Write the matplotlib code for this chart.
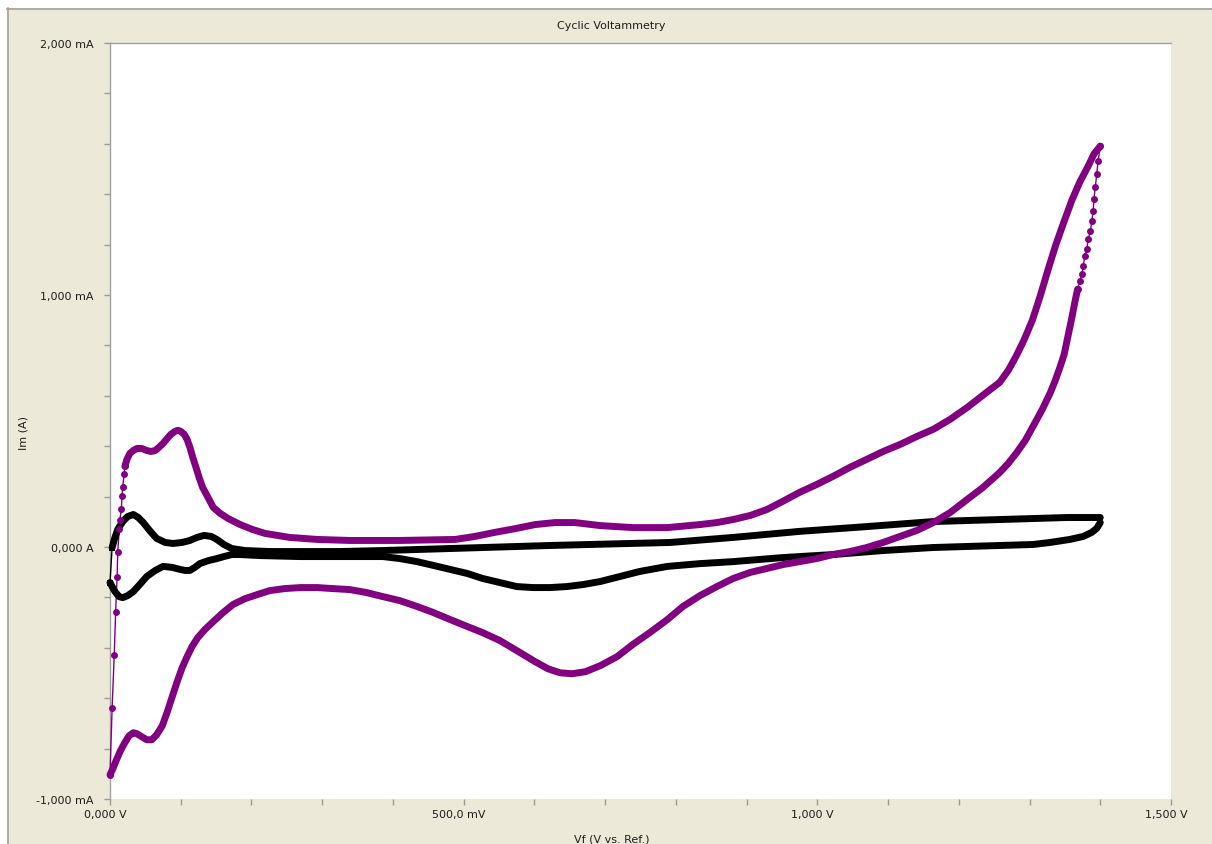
import numpy as np
import matplotlib
matplotlib.use("Agg")
import matplotlib.pyplot as plt
from matplotlib.lines import Line2D
from matplotlib.patches import Rectangle
from matplotlib.transforms import ScaledTranslation

# ---- cyclic voltammograms: potential (V) and current (mA) ----
# black run
run1_step_v = [0.000, 0.003]
run1_step_i = [-0.141, -0.002]
run1_fwd_v = [0.003, 0.007, 0.011, 0.018, 0.025, 0.033, 0.040, 0.047, 0.057, 0.066,
              0.078, 0.089, 0.102, 0.113, 0.123, 0.133, 0.143, 0.151, 0.161, 0.172,
              0.191, 0.226, 0.269, 0.325, 0.386, 0.481, 0.622, 0.792, 0.881, 0.975,
              1.070, 1.164, 1.258, 1.353, 1.400]
run1_fwd_i = [-0.002, 0.038, 0.070, 0.101, 0.121, 0.129, 0.117, 0.097, 0.062, 0.034,
              0.018, 0.014, 0.018, 0.026, 0.038, 0.046, 0.042, 0.030, 0.010, -0.006,
              -0.014, -0.018, -0.018, -0.018, -0.014, -0.006, 0.006, 0.018, 0.038, 0.062,
              0.081, 0.101, 0.109, 0.117, 0.117]
run1_rev_v = [1.400, 1.395, 1.388, 1.376, 1.357, 1.329, 1.305, 1.258, 1.164, 1.093,
              1.022, 0.951, 0.881, 0.834, 0.788, 0.749, 0.721, 0.693, 0.669, 0.646,
              0.622, 0.598, 0.575, 0.551, 0.527, 0.505, 0.481, 0.457, 0.434, 0.410,
              0.386, 0.325, 0.269, 0.212, 0.184, 0.172, 0.161, 0.151, 0.139, 0.127,
              0.120, 0.113, 0.106, 0.099, 0.088, 0.075, 0.064, 0.052, 0.042, 0.033,
              0.025, 0.018, 0.013, 0.007, 0.003, 0.000]
run1_rev_i = [0.097, 0.074, 0.058, 0.042, 0.030, 0.018, 0.010, 0.006, -0.002, -0.014,
              -0.030, -0.042, -0.058, -0.066, -0.077, -0.097, -0.117, -0.137, -0.149, -0.157,
              -0.161, -0.161, -0.157, -0.141, -0.125, -0.105, -0.089, -0.073, -0.058, -0.046,
              -0.038, -0.038, -0.038, -0.034, -0.030, -0.030, -0.038, -0.046, -0.054, -0.066,
              -0.081, -0.093, -0.093, -0.089, -0.081, -0.077, -0.093, -0.117, -0.149, -0.177,
              -0.193, -0.201, -0.197, -0.177, -0.157, -0.141]

# purple run
run2_step_v = [0.000, 0.003, 0.006, 0.008, 0.010, 0.011, 0.013, 0.014, 0.016, 0.017,
               0.018, 0.020, 0.021]
run2_step_i = [-0.904, -0.638, -0.427, -0.256, -0.121, -0.018, 0.070, 0.109, 0.149, 0.201,
               0.240, 0.288, 0.320]
run2_fwd_v = [0.021, 0.024, 0.028, 0.033, 0.038, 0.045, 0.052, 0.058, 0.064, 0.069,
              0.075, 0.081, 0.086, 0.092, 0.096, 0.100, 0.105, 0.109, 0.113, 0.117,
              0.122, 0.126, 0.131, 0.137, 0.146, 0.156, 0.167, 0.184, 0.201, 0.219,
              0.254, 0.293, 0.339, 0.410, 0.488, 0.516, 0.544, 0.573, 0.601, 0.629,
              0.657, 0.693, 0.739, 0.788, 0.834, 0.858, 0.881, 0.905, 0.929, 0.951,
              0.975, 0.999, 1.022, 1.046, 1.070, 1.093, 1.117, 1.141, 1.164, 1.188,
              1.212, 1.234, 1.258, 1.270, 1.281, 1.292, 1.304, 1.315, 1.326, 1.337,
              1.349, 1.360, 1.371, 1.383, 1.391, 1.400]
run2_fwd_i = [0.320, 0.348, 0.371, 0.383, 0.391, 0.391, 0.383, 0.379, 0.383, 0.395,
              0.411, 0.431, 0.447, 0.459, 0.463, 0.459, 0.447, 0.427, 0.395, 0.356,
              0.312, 0.276, 0.236, 0.205, 0.157, 0.133, 0.113, 0.089, 0.070, 0.054,
              0.038, 0.030, 0.026, 0.026, 0.030, 0.042, 0.058, 0.073, 0.089, 0.097,
              0.097, 0.085, 0.077, 0.077, 0.089, 0.097, 0.109, 0.125, 0.149, 0.181,
              0.217, 0.248, 0.280, 0.316, 0.348, 0.379, 0.407, 0.439, 0.467, 0.507,
              0.554, 0.602, 0.654, 0.701, 0.757, 0.820, 0.900, 0.995, 1.099, 1.198,
              1.293, 1.377, 1.448, 1.512, 1.559, 1.591]
run2_turn_v = [1.400, 1.397, 1.395, 1.393, 1.391, 1.390, 1.388, 1.386, 1.383, 1.381,
               1.378, 1.376, 1.374, 1.371, 1.368]
run2_turn_i = [1.591, 1.532, 1.480, 1.428, 1.381, 1.333, 1.293, 1.253, 1.222, 1.182,
               1.154, 1.114, 1.083, 1.055, 1.023]
run2_rev_v = [1.368, 1.364, 1.360, 1.354, 1.349, 1.343, 1.336, 1.329, 1.318, 1.305,
              1.294, 1.282, 1.270, 1.258, 1.234, 1.212, 1.188, 1.164, 1.141, 1.117,
              1.093, 1.070, 1.046, 1.022, 0.999, 0.975, 0.951, 0.929, 0.905, 0.881,
              0.858, 0.834, 0.810, 0.788, 0.763, 0.739, 0.717, 0.693, 0.672, 0.653,
              0.636, 0.619, 0.601, 0.575, 0.551, 0.527, 0.502, 0.481, 0.457, 0.434,
              0.410, 0.386, 0.363, 0.339, 0.315, 0.293, 0.269, 0.247, 0.226, 0.208,
              0.191, 0.174, 0.160, 0.146, 0.134, 0.124, 0.116, 0.109, 0.102, 0.095,
              0.088, 0.081, 0.074, 0.066, 0.059, 0.052, 0.045, 0.038, 0.033, 0.027,
              0.020, 0.014, 0.008, 0.004, 0.000]
run2_rev_i = [1.023, 0.971, 0.912, 0.832, 0.765, 0.713, 0.658, 0.610, 0.546, 0.479,
              0.423, 0.375, 0.332, 0.296, 0.236, 0.189, 0.137, 0.097, 0.066, 0.042,
              0.018, -0.002, -0.018, -0.030, -0.046, -0.058, -0.070, -0.085, -0.101, -0.125,
              -0.157, -0.193, -0.236, -0.288, -0.340, -0.387, -0.435, -0.471, -0.495, -0.503,
              -0.499, -0.483, -0.455, -0.411, -0.371, -0.340, -0.312, -0.288, -0.260, -0.236,
              -0.213, -0.197, -0.181, -0.169, -0.165, -0.161, -0.161, -0.165, -0.173, -0.189,
              -0.205, -0.228, -0.260, -0.296, -0.328, -0.360, -0.395, -0.435, -0.479, -0.534,
              -0.594, -0.654, -0.709, -0.745, -0.765, -0.765, -0.753, -0.741, -0.737, -0.749,
              -0.781, -0.813, -0.852, -0.880, -0.904]

x_major = [0.0, 0.5, 1.0, 1.5]
x_labels = ["0,000 V", "500,0 mV", "1,000 V", "1,500 V"]
y_major = [-1.0, 0.0, 1.0, 2.0]
y_labels = ["-1,000 mA", "0,000 A", "1,000 mA", "2,000 mA"]

PURPLE = "#800080"
BLACK = "#000000"
PANEL = "#ECE9D8"
EDGE = "#A3A297"
TXT = "#1e1e1e"

W, H = 1212, 845
fig = plt.figure(figsize=(W / 100, H / 100), dpi=100)
fig.patch.set_facecolor("white")

# window panel with its top/left border
fig.add_artist(Rectangle((7 / W, 0), 1 - 7 / W, 1 - 9 / H, transform=fig.transFigure,
                         facecolor=PANEL, edgecolor="none", zorder=-10))
fig.add_artist(Line2D([7 / W, 1], [1 - 9.5 / H, 1 - 9.5 / H], transform=fig.transFigure,
                      color=EDGE, lw=1.2))
fig.add_artist(Line2D([7.5 / W, 7.5 / W], [0, 1 - 9 / H], transform=fig.transFigure,
                      color=EDGE, lw=1.2))

ax = fig.add_axes([110 / W, 45 / H, (1171 - 110) / W, (800 - 44) / H])
ax.set_facecolor("white")
ax.set_xlim(0, 1.5)
ax.set_ylim(-1.0, 2.0)

for side in ("right", "bottom"):
    ax.spines[side].set_visible(False)
for side in ("top", "left"):
    ax.spines[side].set_color("#A0A0A0")
    ax.spines[side].set_linewidth(1.0)

xt = np.round(np.arange(0, 1.501, 0.1), 2)
yt = np.round(np.arange(-1.0, 2.001, 0.2), 2)
ax.set_xticks(xt)
ax.set_xticklabels([x_labels[x_major.index(t)] if t in x_major else "" for t in xt])
ax.set_yticks(yt)
ax.set_yticklabels([y_labels[y_major.index(t)] if t in y_major else "" for t in yt])
ax.tick_params(axis="both", direction="out", length=4, width=1, color="#9A9A9A",
               labelsize=8, labelcolor=TXT)
ax.tick_params(axis="y", pad=8)
ax.tick_params(axis="x", pad=3)
for lab in ax.get_xticklabels():
    lab.set_transform(lab.get_transform() + ScaledTranslation(-5 / 100, 0, fig.dpi_scale_trans))


def draw_run(color, parts, marker, dense_idx):
    # thin connecting line through every sample, in order
    all_v = np.concatenate([np.asarray(p[0]) for p in parts])
    all_i = np.concatenate([np.asarray(p[1]) for p in parts])
    ax.plot(all_v, all_i, color=color, lw=1.0, zorder=3, clip_on=False)
    for k, (v, i) in enumerate(parts):
        if k in dense_idx:
            ax.plot(v, i, color=color, lw=5.0, solid_joinstyle="round",
                    solid_capstyle="round", zorder=4, clip_on=False)
        else:
            ax.plot(v, i, ls="none", marker=marker, ms=5, color=color,
                    markeredgewidth=0, zorder=5, clip_on=False)


draw_run(BLACK, [(run1_step_v, run1_step_i), (run1_fwd_v, run1_fwd_i),
                 (run1_rev_v, run1_rev_i)], "s", {1, 2})
draw_run(PURPLE, [(run2_step_v, run2_step_i), (run2_fwd_v, run2_fwd_i),
                  (run2_turn_v, run2_turn_i), (run2_rev_v, run2_rev_i)], "o", {1, 3})

fig.text(611 / W, 1 - 26 / H, "Cyclic Voltammetry", ha="center", va="center",
         fontsize=8, color=TXT)
fig.text(24 / W, 1 - 433 / H, "Im (A)", ha="center", va="center", rotation=90,
         fontsize=8, color=TXT)
fig.text(612 / W, 1 - 840 / H, "Vf (V vs. Ref.)", ha="center", va="center",
         fontsize=8, color=TXT)

fig.savefig("out.png", dpi=100, facecolor=fig.get_facecolor())
